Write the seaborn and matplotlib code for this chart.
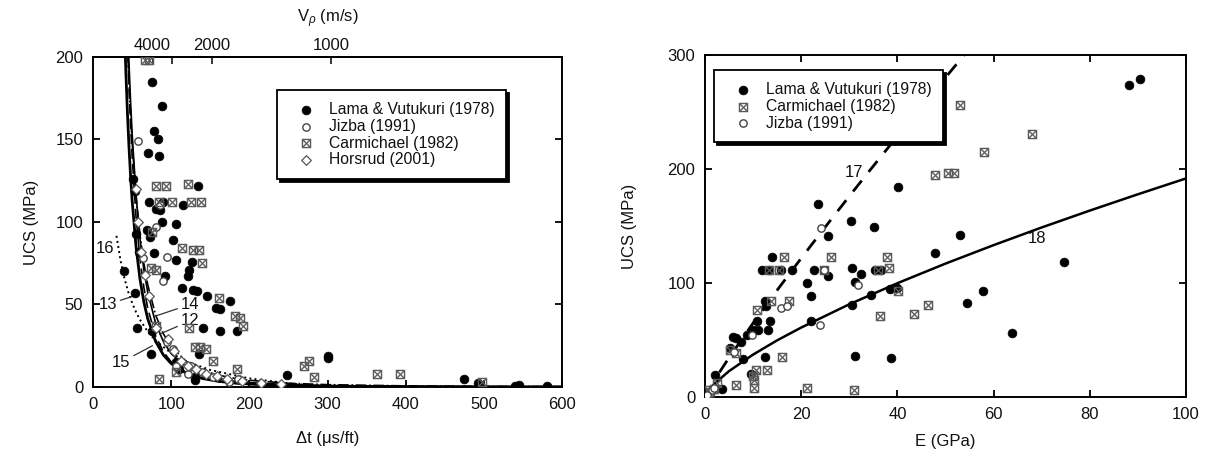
import numpy as np
import matplotlib
matplotlib.use("Agg")
import matplotlib.pyplot as plt
import seaborn as sns

sns.set_theme(style="ticks")
plt.rcParams['font.family'] = ['Liberation Sans', 'DejaVu Sans']
plt.rcParams['mathtext.fontset'] = 'custom'
plt.rcParams['mathtext.rm'] = 'Liberation Sans'
plt.rcParams['mathtext.it'] = 'Liberation Sans:italic'

# ---- left panel: UCS vs sonic transit time ----
lama_dt = [76, 88, 78, 83, 70, 85, 51, 134, 54, 71, 89, 115, 81, 86, 88, 106, 69, 73, 55, 102,
           59, 78, 106, 127, 92, 122, 123, 114, 128, 133, 146, 157, 163, 175, 40, 54, 56, 141, 162, 184,
           76, 74, 136, 106, 110, 131, 131, 248, 301, 301, 474, 492, 545, 540, 581]
lama_ucs = [185, 170, 155, 150, 142, 140, 126, 122, 119, 112, 112, 110, 108, 107, 100, 99, 95, 91, 93, 89,
            82, 81, 77, 76, 67, 67, 71, 60, 59, 58, 55, 48, 47, 52, 70, 57, 36, 36, 34, 34,
            34, 20, 20, 15, 11, 6, 4, 7, 19, 17.5, 4.6, 2.6, 1.2, 0.6, 0.6]

carm_dt = [66, 72, 80, 93, 121, 84, 101, 125, 138, 114, 128, 136, 140, 74, 81, 76, 161, 182, 188, 192,
           123, 81, 131, 137, 144, 153, 184, 85, 106, 270, 276, 283, 363, 393, 498]
carm_ucs = [198, 198, 122, 122, 123, 112, 112, 112, 112, 84, 83, 83, 75, 72, 71, 94, 54, 43, 42, 37,
            36, 37, 24, 24, 23, 16, 11, 5, 9, 13, 16, 6, 8, 7.6, 3]

jiz_dt = [58, 94, 90, 64, 86, 81, 95, 102, 106, 125, 121, 140, 153, 174, 186]
jiz_ucs = [149, 79, 64, 78, 110, 97, 27, 23, 13, 13, 8, 9, 6, 3, 5]

hors_dt = [55, 58, 62, 66, 72, 80, 96, 104, 112, 122, 132, 145, 158, 172, 190, 215, 240]
hors_ucs = [120, 100, 82, 68, 55, 36, 29, 22, 16, 13, 11, 8, 6.5, 5, 3.5, 2.5, 1.8]

curve_dt = [40, 42, 44, 46, 48, 50, 55, 60, 65, 70, 80, 90, 100, 120, 140, 160, 180, 200, 250, 300, 400, 500, 600]
eq12 = [295.8, 256.3, 223.6, 196.3, 173.3, 153.7, 116.3, 90.1, 71.3, 57.3, 38.8, 27.5, 20.2, 11.8, 7.53, 5.09,
        3.60, 2.65, 1.38, 0.81, 0.35, 0.18, 0.11]
eq13 = [285.7, 244.2, 210.6, 182.7, 159.4, 139.9, 103.1, 78.0, 60.4, 47.6, 31.1, 21.3, 15.2, 8.49, 5.19, 3.38,
        2.32, 1.66, 0.81, 0.45, 0.18, 0.09, 0.05]
eq14 = [265.1, 233.5, 206.9, 184.4, 165.0, 148.4, 115.8, 92.4, 75.0, 61.9, 43.7, 32.2, 24.5, 15.2, 10.2, 7.21,
        5.31, 4.04, 2.26, 1.41, 0.67, 0.37, 0.23]
eq15 = [221.2, 191.1, 166.2, 145.5, 128.0, 113.3, 85.1, 65.6, 51.6, 41.3, 27.7, 19.4, 14.2, 8.19, 5.16, 3.46,
        2.43, 1.77, 0.91, 0.52, 0.22, 0.11, 0.07]
eq16_dt = [30, 35, 40, 45, 50, 55, 60, 70, 80, 100, 120, 150, 200, 250, 300]
eq16 = [91.6, 77.1, 66.2, 57.7, 51.0, 45.4, 40.8, 33.5, 28.1, 20.5, 15.4, 10.3, 5.2, 2.2, 0.16]

vp_ticks = [4000, 3000, 2000, 1000]
vp_labels = ['4000', '', '2000', '1000']

# ---- right panel: UCS vs Young's modulus ----
lama_E = [88.1, 90.4, 40.1, 23.4, 30.3, 35.2, 53.0, 25.6, 47.8, 13.9, 74.7, 11.9, 13.4, 15.8, 18.1, 22.7,
          30.6, 32.5, 25.6, 35.4, 36.6, 21.3, 31.1, 38.4, 39.9, 34.5, 22.1, 57.9, 30.5, 54.5, 12.5, 12.7,
          22.0, 13.6, 10.9, 13.2, 10.0, 11.0, 8.8, 5.8, 6.5, 7.4, 5.2, 63.8, 31.1, 38.7, 12.5, 7.8, 2.1, 3.5, 9.6]
lama_ucs_e = [273.5, 278.8, 183.8, 169.7, 154.4, 149, 141.8, 141.2, 126, 122.6, 118.5, 111, 111, 111, 111, 111.8,
              113.2, 108, 106, 111.8, 111.8, 100, 100.6, 95, 96, 89.7, 88.8, 92.6, 80.9, 82.4, 83.8, 79.4,
              66.8, 66.8, 66.8, 58.8, 58.8, 58.8, 54.4, 52.9, 51.5, 48.5, 42.6, 56.5, 36.2, 33.8, 35.3, 33.2, 19.1, 6.8, 20]

carm_E = [53.1, 67.9, 58.1, 47.8, 50.5, 51.8, 16.4, 26.2, 37.9, 13.3, 15.4, 24.8, 38.3, 36.0, 13.7, 17.4, 10.9,
          36.4, 43.4, 46.4, 40.1, 5.2, 6.4, 16.0, 10.7, 12.9, 9.9, 10.1, 10.2, 6.5, 21.3, 30.9, 1.1, 1.9, 0.7, 2.5]
carm_ucs_e = [255.9, 230.3, 215.3, 195, 196.2, 196.2, 122.6, 122.6, 122.6, 111, 111, 111.8, 113.2, 111.8, 83.8,
              83.8, 76.5, 71.2, 72.9, 80.3, 92.6, 41.2, 38.2, 35.3, 23.5, 23.5, 18.5, 14.7, 7.9, 10.3, 7.9, 5.9,
              4.4, 7.4, 5.9, 12.4]

jiz_E = [24.2, 24.8, 31.9, 15.8, 17.0, 24.0, 9.8, 6.0, 1.1, 1.5, 0.7, 0.4, 1.9]
jiz_ucs_e = [148.5, 111.8, 98.5, 78.5, 79.4, 63.2, 54.4, 39.1, 2.9, 5.9, 0.5, 1.5, 7.9]

eq17_E = [3, 5, 10, 15, 20, 25, 30, 35, 40, 45, 50, 54]
eq17 = [21.6, 34.5, 64.8, 93.7, 121.7, 149.1, 176.1, 202.6, 228.7, 254.6, 280.2, 300.6]
eq18_E = [1, 2, 5, 10, 15, 20, 30, 40, 50, 60, 70, 80, 90, 100]
eq18 = [7.2, 11.8, 22.7, 37.2, 49.7, 60.9, 81.3, 99.8, 117.0, 133.2, 148.7, 163.5, 177.8, 191.7]

FS = 12
LFS = 11.3
TXT = '#111111'
GRAY = '#5a5a5a'

fig = plt.figure(figsize=(12.13, 4.57), dpi=100)
ax1 = fig.add_axes([0.0767, 0.1532, 0.3866, 0.7221])
ax2 = fig.add_axes([0.5812, 0.1313, 0.3965, 0.7484])


def style_axes(ax):
    for s in ax.spines.values():
        s.set_linewidth(1.4)
        s.set_color('black')
    ax.tick_params(direction='in', length=5, width=1.3, labelsize=FS, pad=7, colors='black',
                   right=True, labelcolor=TXT)


def add_legend(ax, anchor):
    leg = ax.legend(loc='upper left', bbox_to_anchor=anchor, borderaxespad=0, fontsize=LFS, frameon=True,
                    fancybox=False, shadow={'color': 'black', 'alpha': 1.0}, edgecolor='black', framealpha=1,
                    handletextpad=0.35, labelspacing=0.12, borderpad=0.75, handlelength=2.2)
    leg.get_frame().set_linewidth(1.3)
    leg.set_zorder(10)
    for t in leg.get_texts():
        t.set_color(TXT)
    return leg


# left panel
line_kw = dict(color='black', estimator=None, sort=False, legend=False)
sns.lineplot(x=curve_dt, y=eq12, ax=ax1, lw=1.2, linestyle='-', **line_kw)
sns.lineplot(x=curve_dt, y=eq13, ax=ax1, lw=1.2, linestyle=(0, (6, 3)), **line_kw)
sns.lineplot(x=curve_dt, y=eq14, ax=ax1, lw=1.2, linestyle='-.', **line_kw)
sns.lineplot(x=curve_dt, y=eq15, ax=ax1, lw=2.0, linestyle='-', **line_kw)
sns.lineplot(x=eq16_dt, y=eq16, ax=ax1, lw=1.4, linestyle=':', **line_kw)

sns.scatterplot(x=lama_dt, y=lama_ucs, ax=ax1, marker='o', color='black', s=40, edgecolor='black',
                linewidth=0.5, label='Lama & Vutukuri (1978)', zorder=4)
sns.scatterplot(x=jiz_dt, y=jiz_ucs, ax=ax1, marker='o', facecolor='white', edgecolor='#444444', s=28,
                linewidth=1.0, label='Jizba (1991)', zorder=4)
sns.scatterplot(x=carm_dt, y=carm_ucs, ax=ax1, marker=r'$\boxtimes$', color=GRAY, s=40, linewidth=0.5,
                edgecolor=GRAY, label='Carmichael (1982)', zorder=4)
sns.scatterplot(x=hors_dt, y=hors_ucs, ax=ax1, marker='D', facecolor='white', edgecolor='#555555', s=24,
                linewidth=0.9, label='Horsrud (2001)', zorder=4)

ax1.set_xlim(0, 600)
ax1.set_ylim(0, 200)
ax1.set_xticks(range(0, 601, 100))
ax1.set_yticks(range(0, 201, 50))
style_axes(ax1)
ax1.tick_params(top=False)
ax1.set_xlabel('Δt (μs/ft)', fontsize=FS, labelpad=14, color=TXT)
ax1.set_ylabel('UCS (MPa)', fontsize=FS, labelpad=12, color=TXT)


def dt_to_vp(x):
    x = np.asarray(x, dtype=float)
    return 304800.0 / np.maximum(x, 1e-9)


sec = ax1.secondary_xaxis('top', functions=(dt_to_vp, dt_to_vp))
sec.set_xticks(vp_ticks)
sec.set_xticklabels(vp_labels)
sec.tick_params(direction='in', length=5, width=1.3, labelsize=FS, pad=3, labelcolor=TXT)
sec.set_xlabel(r'V$_\rho$ (m/s)', fontsize=FS, labelpad=11, color=TXT)

ann = dict(fontsize=FS, color=TXT, ha='center', va='center')
arr = dict(arrowstyle='-', color='#333333', lw=0.9, shrinkA=0, shrinkB=0)
ax1.text(15, 84, '16', **ann)
ax1.annotate('13', xy=(51, 55), xytext=(19, 50), arrowprops=arr, **ann)
ax1.annotate('14', xy=(80, 43), xytext=(124, 50), arrowprops=arr, **ann)
ax1.annotate('12', xy=(85, 32), xytext=(124, 40), arrowprops=arr, **ann)
ax1.annotate('15', xy=(76, 25), xytext=(36, 15), arrowprops=arr, **ann)

add_legend(ax1, (0.392, 0.9))

# right panel
sns.lineplot(x=eq17_E, y=eq17, ax=ax2, lw=2.0, linestyle=(0, (5, 4)), **line_kw)
sns.lineplot(x=eq18_E, y=eq18, ax=ax2, lw=1.8, linestyle='-', **line_kw)

sns.scatterplot(x=lama_E, y=lama_ucs_e, ax=ax2, marker='o', color='black', s=40, edgecolor='black',
                linewidth=0.5, label='Lama & Vutukuri (1978)', zorder=4)
sns.scatterplot(x=carm_E, y=carm_ucs_e, ax=ax2, marker=r'$\boxtimes$', color=GRAY, s=40, linewidth=0.5,
                edgecolor=GRAY, label='Carmichael (1982)', zorder=4)
sns.scatterplot(x=jiz_E, y=jiz_ucs_e, ax=ax2, marker='o', facecolor='white', edgecolor='#444444', s=28,
                linewidth=1.0, label='Jizba (1991)', zorder=4)

ax2.set_xlim(0, 100)
ax2.set_ylim(0, 300)
ax2.set_xticks(range(0, 101, 20))
ax2.set_yticks(range(0, 301, 100))
style_axes(ax2)
ax2.tick_params(top=True)
ax2.set_xlabel('E (GPa)', fontsize=FS, labelpad=9, color=TXT)
ax2.set_ylabel('UCS (MPa)', fontsize=FS, labelpad=22, color=TXT)
ax2.text(31, 197, '17', **ann)
ax2.text(69, 139, '18', **ann)

add_legend(ax2, (0.019, 0.956))

fig.savefig('out.png', dpi=100)
